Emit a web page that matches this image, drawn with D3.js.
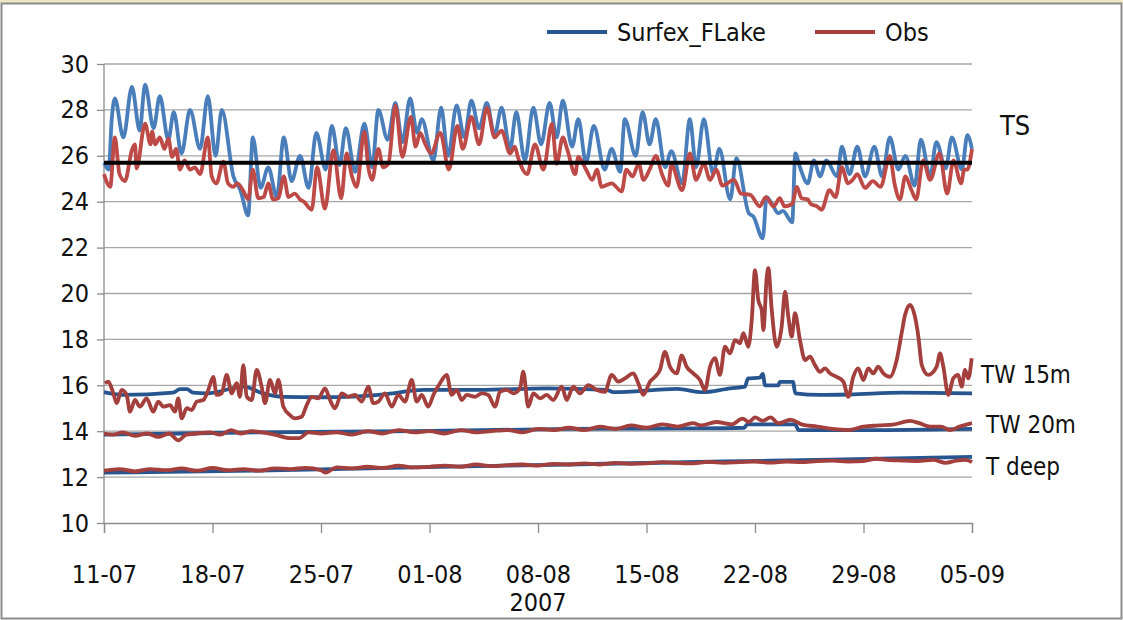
<!DOCTYPE html>
<html>
<head>
<meta charset="utf-8">
<script src="https://cdn.jsdelivr.net/npm/d3@7"></script>
<style>
  body { margin: 0; background: #fff; }
  svg text { font-family: "Liberation Sans Narrow", "DejaVu Sans Condensed", "Arial Narrow", sans-serif; fill: #111; }
</style>
</head>
<body>
<div id="chart"></div>
<script>
// days since 11-07-2007, temperature (deg C)
var tsSurfex = [[0.0,25.7],[0.3,25.4],[0.5,27.6],[0.7,28.5],[1.25,26.8],[1.8,29.0],[2.3,27.1],[2.65,29.1],[3.2,27.2],[3.6,28.6],[4.15,26.7],[4.5,27.9],[5.0,26.1],[5.55,28.0],[6.2,26.3],[6.7,28.6],[7.2,26.0],[7.6,28.0],[8.35,25.1],[8.8,24.5],[9.3,23.4],[9.6,26.8],[10.1,24.6],[10.6,25.5],[11.15,24.2],[11.6,26.8],[12.1,24.9],[12.65,26.0],[13.2,24.6],[13.7,27.0],[14.3,25.4],[14.7,27.3],[15.2,25.6],[15.6,27.2],[16.2,25.3],[16.8,27.4],[17.3,25.5],[17.7,28.0],[18.3,26.7],[18.8,28.3],[19.25,26.6],[19.75,28.5],[20.2,27.0],[20.5,27.6],[21.25,25.8],[21.75,28.1],[22.2,26.0],[22.75,28.2],[23.25,26.8],[23.7,28.4],[24.2,27.2],[24.7,28.3],[25.2,26.9],[25.65,28.1],[26.2,26.3],[26.6,27.9],[27.15,25.8],[27.7,28.1],[28.2,26.5],[28.75,28.3],[29.2,26.8],[29.6,28.4],[30.2,26.4],[30.6,27.6],[31.1,25.7],[31.6,27.3],[32.3,25.4],[32.75,26.3],[33.3,25.3],[33.6,27.6],[34.3,26.0],[34.75,27.9],[35.2,26.5],[35.6,27.6],[36.2,25.5],[36.6,26.2],[37.3,24.8],[37.8,27.6],[38.2,25.5],[38.7,27.6],[39.3,25.2],[39.7,26.3],[40.4,24.1],[40.8,25.9],[41.6,23.5],[41.9,23.35],[42.5,22.4],[42.75,24.2],[43.1,23.9],[43.5,23.5],[43.8,23.6],[44.4,23.1],[44.6,26.1],[44.9,25.5],[45.4,24.8],[45.8,25.8],[46.2,25.1],[46.6,25.8],[47.3,25.1],[47.6,26.4],[48.1,25.2],[48.6,26.4],[49.1,25.1],[49.7,26.4],[50.2,25.1],[50.7,26.8],[51.25,25.4],[51.7,26.0],[52.3,24.7],[52.7,26.7],[53.3,25.1],[53.7,26.6],[54.3,25.45],[54.7,26.8],[55.35,25.4],[55.7,26.9],[56.0,26.3]];

var tsObs = [[0.0,25.2],[0.4,24.65],[0.7,26.8],[1.0,25.2],[1.35,24.9],[1.8,26.25],[2.0,26.5],[2.1,25.45],[2.65,27.4],[3.0,26.5],[3.1,27.05],[3.3,26.5],[3.6,26.8],[3.9,26.3],[4.15,26.75],[4.4,25.95],[4.65,26.3],[4.9,25.4],[5.2,25.8],[5.55,25.4],[5.85,25.5],[6.2,25.2],[6.7,26.8],[6.95,25.1],[7.25,24.8],[7.7,25.75],[8.0,24.8],[8.35,24.65],[8.6,24.8],[9.0,24.45],[9.3,24.1],[9.6,25.4],[9.95,24.15],[10.3,24.2],[10.6,24.8],[10.9,24.1],[11.25,24.15],[11.6,25.1],[11.9,24.2],[12.3,24.35],[12.65,24.1],[12.9,24.0],[13.4,23.65],[13.75,25.5],[14.25,23.7],[14.8,26.25],[15.3,24.15],[15.65,26.1],[16.0,25.1],[16.3,24.65],[16.8,27.05],[17.05,25.5],[17.3,24.95],[17.7,26.3],[18.0,25.5],[18.35,25.65],[18.8,28.2],[19.25,25.95],[19.8,27.7],[20.1,26.4],[20.4,27.0],[20.7,26.55],[21.1,26.1],[21.7,27.0],[22.25,25.4],[22.8,27.3],[23.15,26.3],[23.7,27.7],[24.2,26.5],[24.7,28.1],[25.2,26.8],[25.65,27.1],[26.2,26.1],[26.5,26.4],[26.7,25.95],[27.3,25.2],[27.8,26.5],[28.35,25.4],[28.9,27.4],[29.2,25.65],[29.6,26.8],[29.9,26.25],[30.4,25.2],[30.6,25.95],[31.1,25.4],[31.5,24.95],[31.8,25.4],[32.1,24.65],[32.75,24.8],[33.4,24.45],[33.7,25.4],[34.1,25.1],[34.5,25.65],[34.8,24.95],[35.2,25.4],[35.6,26.0],[36.0,25.2],[36.4,24.7],[36.6,25.6],[37.3,24.5],[37.8,26.1],[38.2,24.95],[38.7,25.65],[39.1,24.95],[39.5,25.4],[39.9,24.7],[40.65,24.95],[41.1,24.35],[41.7,24.3],[42.3,23.8],[42.7,24.2],[43.2,23.8],[43.6,24.15],[43.9,23.8],[44.4,23.9],[44.7,24.65],[45.0,24.15],[45.4,24.1],[45.6,23.9],[46.0,23.8],[46.3,23.65],[46.8,24.5],[47.2,24.2],[47.6,25.5],[48.0,24.8],[48.3,24.95],[48.6,25.2],[49.1,24.6],[49.6,24.9],[50.1,24.65],[50.7,26.0],[51.0,24.8],[51.35,24.1],[51.7,25.1],[52.1,24.5],[52.4,24.1],[52.85,25.8],[53.3,24.95],[53.9,26.1],[54.4,24.35],[54.8,25.8],[55.3,24.8],[55.5,25.4],[55.7,25.4],[56.0,26.3]];

var tw15Surfex = [[0,15.7],[1.2,15.58],[4.45,15.68],[4.9,15.83],[5.35,15.83],[5.75,15.68],[6.65,15.65],[9.0,15.94],[10.25,15.65],[11.55,15.5],[14.1,15.48],[18.25,15.62],[20.6,15.8],[24.25,15.8],[28.6,15.87],[32.45,15.8],[32.85,15.7],[37.0,15.84],[38.6,15.7],[40.4,15.87],[41.35,15.94],[41.55,16.3],[42.3,16.33],[42.5,16.5],[42.65,16.0],[43.5,16.0],[43.6,16.15],[44.45,16.15],[44.6,15.65],[46.2,15.58],[48.1,15.6],[51.5,15.68],[56,15.65]];

var tw15Obs = [[0.06,16.09],[0.28,16.16],[0.6,15.65],[0.82,15.22],[1.14,15.8],[1.46,15.58],[1.68,14.85],[2.0,15.36],[2.32,15.07],[2.75,15.43],[3.18,14.85],[3.5,15.29],[3.83,15.07],[4.26,15.14],[4.58,14.85],[4.79,15.43],[5.01,14.56],[5.34,15.0],[5.66,14.92],[5.98,15.29],[6.41,15.36],[6.73,15.8],[7.05,16.37],[7.27,15.58],[7.59,15.65],[7.92,16.45],[8.24,15.65],[8.56,16.09],[8.77,15.5],[8.99,16.88],[9.21,15.5],[9.53,15.36],[9.85,16.67],[10.17,15.94],[10.39,15.22],[10.71,16.23],[11.03,15.65],[11.25,16.23],[11.57,15.07],[12.0,14.7],[12.32,14.56],[12.75,14.63],[13.08,15.14],[13.4,15.5],[13.83,15.43],[14.26,15.87],[14.58,15.36],[14.9,15.0],[15.34,15.65],[15.76,15.5],[16.19,15.58],[16.63,15.29],[17.05,15.94],[17.37,15.22],[17.7,15.29],[18.13,15.65],[18.56,15.07],[18.99,15.58],[19.42,15.29],[19.85,16.23],[20.17,15.29],[20.5,15.58],[20.92,15.07],[21.25,15.58],[21.68,16.09],[22.11,16.45],[22.43,15.58],[22.75,15.8],[23.08,15.36],[23.4,15.58],[23.94,15.5],[24.37,15.65],[24.79,15.58],[25.23,15.07],[25.55,15.72],[25.98,15.8],[26.41,15.65],[26.84,15.87],[27.05,16.59],[27.37,15.07],[27.7,15.65],[28.13,15.43],[28.56,15.58],[28.99,15.36],[29.53,15.94],[29.85,15.36],[30.28,15.94],[30.71,15.65],[31.25,16.01],[31.79,15.8],[32.32,15.72],[32.75,16.45],[33.18,16.16],[33.61,16.3],[34.15,16.52],[34.47,16.09],[34.79,15.58],[35.23,16.16],[35.55,16.37],[35.87,16.67],[36.19,17.46],[36.52,16.8],[36.95,16.52],[37.27,17.3],[37.59,16.81],[38.02,16.52],[38.45,16.23],[38.77,15.8],[39.1,16.81],[39.42,17.18],[39.74,16.45],[40.06,17.68],[40.39,17.39],[40.71,17.97],[41.03,17.83],[41.25,18.27],[41.57,17.68],[41.79,18.85],[42.0,21.02],[42.21,19.72],[42.43,19.28],[42.54,18.41],[42.76,20.73],[42.86,21.1],[43.08,19.28],[43.4,17.68],[43.72,18.55],[43.94,20.08],[44.15,18.99],[44.37,18.12],[44.58,19.14],[44.9,17.97],[45.23,17.1],[45.55,17.25],[45.87,16.88],[46.19,16.59],[46.52,16.74],[46.84,16.52],[47.27,16.37],[47.7,16.16],[48.02,15.5],[48.34,16.37],[48.66,16.74],[48.99,16.23],[49.31,16.74],[49.63,16.52],[49.95,16.81],[50.28,16.52],[50.71,16.37],[51.14,17.1],[51.46,18.27],[51.68,19.06],[52.0,19.5],[52.32,18.99],[52.54,18.12],[52.76,16.88],[53.18,16.45],[53.72,16.81],[53.94,17.39],[54.15,16.81],[54.47,15.58],[54.79,16.3],[55.11,16.45],[55.33,15.94],[55.55,16.67],[55.76,16.3],[55.98,17.18]];

var tw20Surfex = [[0,13.85],[5,13.9],[10,13.95],[20,14.0],[30,14.1],[38,14.12],[41.3,14.15],[41.5,14.3],[44.6,14.3],[44.8,14.05],[50,14.05],[56,14.1]];

var tw20Obs = [[0,13.9],[0.6,13.85],[1.2,13.95],[2,13.8],[2.8,13.9],[3.5,13.75],[4.2,13.9],[4.8,13.6],[5.3,13.85],[6,13.9],[6.8,13.95],[7.5,13.85],[8.2,14.05],[8.8,13.9],[9.5,14.0],[10.2,13.95],[11,13.85],[12.0,13.7],[12.6,13.7],[13.2,13.95],[14,13.9],[15,13.95],[16,13.85],[17,14.0],[18,13.9],[19,14.05],[20,13.95],[21,14.0],[22,13.9],[23,14.05],[24,13.95],[25,14.0],[26,14.05],[27,13.95],[28,14.1],[29,14.05],[30,14.15],[31,14.05],[32,14.2],[33,14.1],[34,14.25],[35,14.15],[36,14.3],[37,14.2],[38,14.35],[38.5,14.25],[39.5,14.4],[40.5,14.3],[41.2,14.55],[41.6,14.4],[42.0,14.6],[42.5,14.45],[43.0,14.6],[43.5,14.35],[44.3,14.5],[45,14.3],[46,14.2],[47,14.1],[48,14.05],[49,14.2],[50,14.25],[51,14.3],[52,14.45],[52.6,14.35],[53.3,14.2],[54,14.2],[54.6,14.05],[55.2,14.2],[56,14.35]];

var tDeepSurfex = [[0,12.2],[10,12.28],[20,12.42],[30,12.55],[40,12.68],[46,12.75],[56,12.88]];

var tDeepObs = [[0,12.28],[1,12.35],[2,12.25],[3,12.35],[4,12.3],[5,12.38],[6,12.28],[7,12.4],[8,12.3],[9,12.35],[10,12.28],[11,12.38],[12,12.35],[13,12.4],[14,12.3],[14.3,12.2],[15,12.42],[16,12.38],[17,12.45],[18,12.4],[19,12.5],[20,12.42],[21,12.45],[22,12.5],[23,12.45],[24,12.55],[25,12.48],[26,12.52],[27,12.55],[28,12.5],[29,12.58],[30,12.55],[31,12.6],[32,12.55],[33,12.62],[34,12.58],[35,12.6],[36,12.65],[37,12.62],[38,12.6],[39,12.66],[40,12.62],[41,12.65],[42,12.68],[43,12.63],[44,12.68],[45,12.65],[46,12.7],[47,12.72],[48,12.68],[49,12.7],[49.8,12.8],[50.5,12.75],[51.5,12.72],[52.5,12.7],[53.5,12.75],[54.3,12.62],[55,12.72],[55.6,12.75],[56,12.65]];

var tsReference = 25.7;
var yTicks = [10, 12, 14, 16, 18, 20, 22, 24, 26, 28, 30];
var xTickDays = [0, 7, 14, 21, 28, 35, 42, 49, 56];
var legendNames = ["Surfex_FLake", "Obs"];
var depthLabels = [
    { text: "TS", value: 26.9, dx: 28, size: 27 },
    { text: "TW 15m", value: 16.1, dx: 9, size: 24 },
    { text: "TW 20m", value: 13.9, dx: 14, size: 24 },
    { text: "T deep", value: 12.1, dx: 14, size: 24 }
];

var startDate = new Date(2007, 6, 11);
function dayToDate(d) { return new Date(startDate.getTime() + d * 86400000); }

var width = 1123, height = 620;
var margin = { top: 64, left: 104, right: 151, bottom: 97 };
var plotW = width - margin.left - margin.right;
var plotH = height - margin.top - margin.bottom;

var svg = d3.select("#chart").append("svg")
    .attr("width", width)
    .attr("height", height);

// outer frame
svg.append("rect").attr("x", 0).attr("y", 0).attr("width", width).attr("height", 3)
    .attr("fill", "#efe6c6");
svg.append("rect").attr("x", 1.5).attr("y", 3.5).attr("width", width - 3).attr("height", height - 5)
    .attr("fill", "none").attr("stroke", "#8c8c8c").attr("stroke-width", 2);

var g = svg.append("g")
    .attr("transform", "translate(" + margin.left + "," + margin.top + ")");

var x = d3.scaleTime()
    .domain([dayToDate(0), dayToDate(56)])
    .range([0, plotW]);

var y = d3.scaleLinear()
    .domain([10, 30])
    .range([plotH, 0]);

// gridlines
g.append("g").selectAll("line").data(yTicks.slice(1)).enter().append("line")
    .attr("x1", 0).attr("x2", plotW)
    .attr("y1", function(d) { return y(d); })
    .attr("y2", function(d) { return y(d); })
    .attr("stroke", "#a6a6a6").attr("stroke-width", 1.3);

// axes
var yAxis = g.append("g")
    .call(d3.axisLeft(y).tickValues(yTicks).tickSize(7).tickPadding(8).tickFormat(d3.format("d")));
var xAxis = g.append("g")
    .attr("transform", "translate(0," + plotH + ")")
    .call(d3.axisBottom(x)
        .tickValues(xTickDays.map(dayToDate))
        .tickSize(10)
        .tickPadding(32)
        .tickFormat(d3.timeFormat("%d-%m")));

[xAxis, yAxis].forEach(function(a) {
    a.select(".domain").attr("stroke", "#8c8c8c").attr("stroke-width", 1.3);
    a.selectAll(".tick line").attr("stroke", "#8c8c8c").attr("stroke-width", 1.3);
    a.selectAll(".tick text").attr("font-size", 25).attr("fill", "#111")
        .style("font-family", "'Liberation Sans Narrow', 'DejaVu Sans Condensed', sans-serif");
});
yAxis.select(".domain").attr("d", "M0,0V" + plotH);

g.append("text")
    .attr("x", x(dayToDate(28)))
    .attr("y", plotH + 88)
    .attr("text-anchor", "middle")
    .attr("font-size", 25)
    .text("2007");

var line = d3.line()
    .x(function(d) { return x(dayToDate(d[0])); })
    .y(function(d) { return y(d[1]); })
    .curve(d3.curveMonotoneX);

var blueLight = "#4a7ebb", redLight = "#bd4a47";
var blueDark = "#26558f", redDark = "#a33f3c";

var series = [
    { data: tDeepSurfex, color: blueDark },
    { data: tDeepObs, color: redDark },
    { data: tw20Surfex, color: blueDark },
    { data: tw20Obs, color: redDark },
    { data: tw15Surfex, color: blueDark },
    { data: tw15Obs, color: redDark },
    { data: tsSurfex, color: blueLight },
    { data: tsObs, color: redLight }
];

g.selectAll("path.series").data(series).enter().append("path")
    .attr("class", "series")
    .attr("d", function(s) { return line(s.data); })
    .attr("fill", "none")
    .attr("stroke", function(s) { return s.color; })
    .attr("stroke-width", 3.8)
    .attr("stroke-linejoin", "round");

// reference line for TS
g.append("line")
    .attr("x1", 0).attr("x2", plotW)
    .attr("y1", y(tsReference)).attr("y2", y(tsReference))
    .attr("stroke", "#000").attr("stroke-width", 4);

// depth labels at the right
g.selectAll("text.depth").data(depthLabels).enter().append("text")
    .attr("class", "depth")
    .attr("x", function(d) { return plotW + d.dx; })
    .attr("y", function(d) { return y(d.value); })
    .attr("font-size", function(d) { return d.size; })
    .text(function(d) { return d.text; });

// legend
var legend = svg.append("g").attr("transform", "translate(547,32)");
var legendColors = [blueDark, redDark];
var legendX = [0, 268];
legendNames.forEach(function(name, i) {
    legend.append("line")
        .attr("x1", legendX[i]).attr("x2", legendX[i] + 60)
        .attr("y1", 0).attr("y2", 0)
        .attr("stroke", legendColors[i]).attr("stroke-width", 4);
    legend.append("text")
        .attr("x", legendX[i] + 70).attr("y", 9)
        .attr("font-size", 25)
        .text(name);
});
</script>
</body>
</html>
